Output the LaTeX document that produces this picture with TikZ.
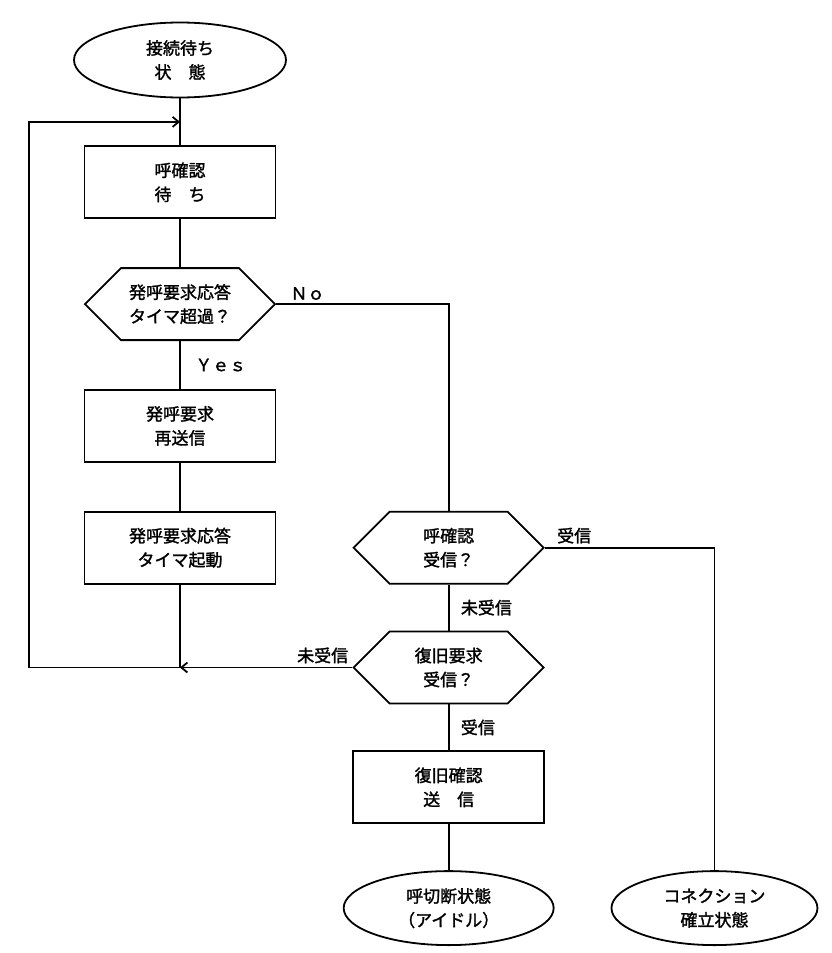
\documentclass[tikz,border=0pt]{standalone}
\usepackage{fontspec}
\newfontfamily\jpfont[FakeBold=1.6]{Noto Sans CJK JP}
\usetikzlibrary{arrows.meta,calc,positioning,shapes.geometric,shapes.symbols}

\begin{document}
\begin{tikzpicture}[
    node distance=48pt,
    every node/.style={font=\jpfont\fontsize{17}{24}\selectfont},
    state/.style={ellipse,draw,minimum width=212pt,minimum height=75pt,align=center,inner sep=0pt},
    proc/.style={rectangle,draw,minimum width=191pt,minimum height=72pt,align=center},
    test/.style={signal,signal to=west and east,signal pointer angle=90,draw,minimum width=190pt,minimum height=72pt,align=center},
    line width=1.8pt,
    >={Straight Barb[length=6pt,width=10pt]}
  ]
  \useasboundingbox (0,0) rectangle (831pt,-953pt);

  % Main column
  \node[state] (S) at (180pt,-60pt) {接続待ち\\状　態};
  \node[proc,below=47pt of S] (W) {呼確認\\待　ち};
  \node[test,below=of W] (D1) {発呼要求応答\\タイマ超過？};
  \node[proc,below=of D1] (R) {発呼要求\\再送信};
  \node[proc,below=of R] (T) {発呼要求応答\\タイマ起動};

  % Right column
  \node[test,right=76pt of T] (D2) {呼確認\\受信？};
  \node[test,below=46pt of D2] (D3) {復旧要求\\受信？};
  \node[proc,below=46pt of D3] (C) {復旧確認\\送　信};
  \node[state,below=46pt of C,minimum width=210pt,minimum height=74pt] (I) {呼切断状態\\（アイドル）};
  \node[state,right=56pt of I,minimum width=206pt,minimum height=74pt] (E) {コネクション\\確立状態};

  % Loop points
  \coordinate (Lin) at ($(S.south)!0.5!(W.north)$);
  \coordinate (J) at (T.south |- D3.west);
  \coordinate (L) at ($(T.west |- D3.west)+(-55pt,0)$);

  % Main flow
  \draw (S) -- (W);
  \draw (W) -- (D1);
  \draw (D1) -- node[right,xshift=11pt]{Ｙｅｓ} (R);
  \draw (R) -- (T);
  \draw (T) -- (J);

  % Branches
  \draw (D1.east) -| node[pos=0,above right,xshift=10pt]{Ｎｏ} (D2.north);
  \draw (D2.south) -- node[right,xshift=8pt]{未受信} (D3.north);
  \draw (D2.east) -| node[pos=0,above right,xshift=8pt]{受信} (E.north);
  \draw (D3.south) -- node[right,xshift=8pt]{受信} (C.north);
  \draw (C) -- (I);

  % Back to waiting
  \draw[->] (D3.west) -- node[pos=0,above left]{未受信} (J);
  \draw[->] (J) -- (L) |- (Lin);
\end{tikzpicture}
\end{document}
